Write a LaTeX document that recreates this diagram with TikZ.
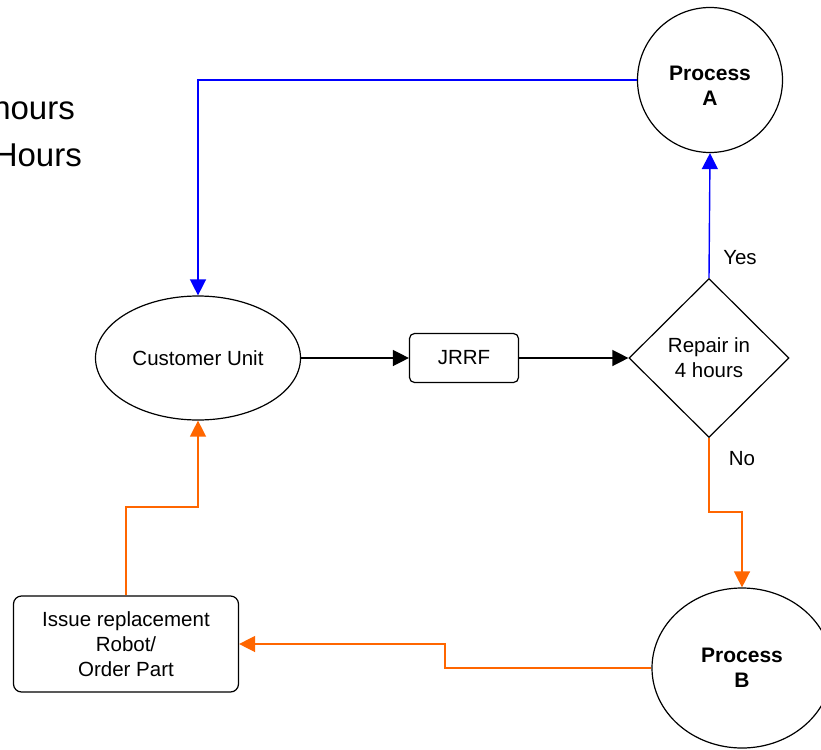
\documentclass[tikz,border=0pt]{standalone}
\usepackage{fontspec}
\setmainfont{Liberation Sans}
\usetikzlibrary{shapes.geometric,arrows.meta,calc}
\definecolor{cblue}{HTML}{0000FF}
\definecolor{corange}{HTML}{FF6600}
\begin{document}
\begin{tikzpicture}[x=1pt,y=-1pt,
  shapeline/.style={draw=black,line width=1.2pt,inner sep=0pt,align=center,font=\fontsize{20.5}{25}\selectfont},
  procstyle/.style={shapeline,font=\fontsize{21}{25}\selectfont\bfseries},
  proctext/.style={inner sep=0pt,align=center,font=\fontsize{21}{25}\selectfont\bfseries},
  arr/.style={line width=1.4pt,-{Triangle[length=16pt,width=16pt]}},
  lbl/.style={font=\fontsize{20.5}{25}\selectfont,inner sep=0pt}]
\useasboundingbox (0,0) rectangle (821,749);
\fill[white] (0,0) rectangle (821,749);

\node[anchor=base east,inner sep=0pt,font=\fontsize{33}{40}\selectfont] (t1) at (75,120) {hours};
\node[anchor=base east,inner sep=0pt,font=\fontsize{33}{40}\selectfont] (t2) at (82,166) {Hours};

\node[procstyle,circle,minimum size=145pt] (pa) at (710,80) {};
\node[proctext] (pat) at (710,86) {Process\\A};
\node[shapeline,ellipse,minimum width=205pt,minimum height=124pt] (cu) at (198,358) {Customer Unit};
\node[shapeline,rectangle,rounded corners=5pt,minimum width=109pt,minimum height=49pt] (jrrf) at (464,358) {JRRF};
\node[shapeline,diamond,minimum width=160pt,minimum height=159pt] (dia) at (709,358) {Repair in\\4 hours};
\node[procstyle,ellipse,minimum width=180pt,minimum height=160pt] (pb) at (742,668) {Process\\B};
\node[shapeline,rectangle,rounded corners=8pt,minimum width=225pt,minimum height=96pt] (iss) at (126,644) {Issue replacement\\Robot/\\Order Part};

\node[lbl] (yes) at (740,258) {Yes};
\node[lbl] (no) at (742,459) {No};

\coordinate (j1) at (0,512);
\coordinate (j2) at (445,0);
\coordinate (j3) at (0,507);

\draw[arr,cblue] (pa.west) -| (cu.north);
\draw[arr,cblue] (dia.north) -- (pa.south);
\draw[arr,black] (cu.east) -- (jrrf.west);
\draw[arr,black] (jrrf.east) -- (dia.west);
\draw[arr,corange] (dia.south) -- (dia.south |- j1) -| (pb.north);
\draw[arr,corange] (pb.west) -- (pb.west -| j2) |- (iss.east);
\draw[arr,corange] (iss.north) -- (iss.north |- j3) -| (cu.south);
\end{tikzpicture}
\end{document}
